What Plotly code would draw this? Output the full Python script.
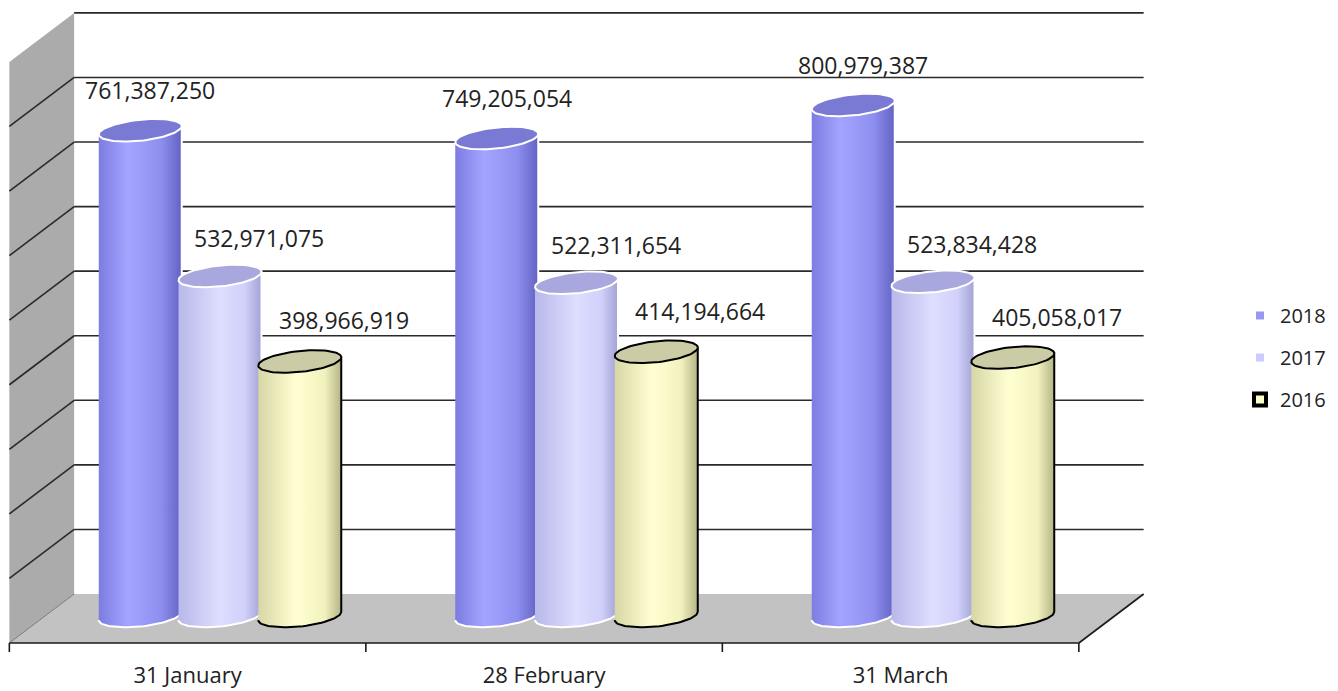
import numpy as np
import plotly.graph_objects as go

# ---------------- data ----------------
categories = ["31 January", "28 February", "31 March"]
years = ["2018", "2017", "2016"]
values_2018 = [761387250, 749205054, 800979387]
values_2017 = [532971075, 522311654, 523834428]
values_2016 = [398966919, 414194664, 405058017]
grid_values = [100_000_000 * k for k in range(0, 10)]   # 0 .. 900M

series = [values_2018, values_2017, values_2016]

# ---------------- styling / geometry ----------------
W, H = 1338, 691
M_L, M_R, M_T, M_B = 5, 188, 5, 36
PX_PER_X = 356.5          # pixels per category step
PX_PER_Y = 0.638e-6       # pixels per value unit
ORIGIN_X_PX = 220         # pixel x of first category (bar plane)
ORIGIN_Y_PX = 616         # pixel y of value 0 (bar plane)

x_range = [(M_L - ORIGIN_X_PX) / PX_PER_X, (W - M_R - ORIGIN_X_PX) / PX_PER_X]
y_range = [-(H - M_B - ORIGIN_Y_PX) / PX_PER_Y, (ORIGIN_Y_PX - M_T) / PX_PER_Y]


def dx(px):
    return px / PX_PER_X


def dy(px):
    return px / PX_PER_Y


DEPTH_X = dx(32.4)
FRAME_SCALE = 1.012


def back(v):
    return dy(22) + FRAME_SCALE * v


def front(v):
    return dy(-27) + FRAME_SCALE * v


n = len(categories)
XL_B, XL_F = -0.5 + DEPTH_X, -0.5 - DEPTH_X
XR_B, XR_F = (n - 0.5) + DEPTH_X, (n - 0.5) - DEPTH_X
VMAX = grid_values[-1]

A_PX, B_PX, SHEAR = 41.5, 10.5, 0.1
SERIES_OFFSET_PX = [-79.75, 0.0, 79.75]
LABEL_OFFSET_PX = [(10, 40), (39, 38), (44, 41)]

body_scales = [
    [[0, "#7c7ce2"], [0.35, "#a4a4ff"], [0.75, "#8e8ef0"], [1, "#6262c2"]],
    [[0, "#b8b8ea"], [0.5, "#dedeff"], [0.8, "#d0d0fa"], [1, "#a2a2d4"]],
    [[0, "#d6d6a6"], [0.45, "#ffffd2"], [0.8, "#f2f2bf"], [1, "#b4b486"]],
]
base_colors = ["#9999f5", "#ccccff", "#ffffcc"]
top_colors = ["#7a7ad4", "#a8a8de", "#cbcba6"]
edge_colors = ["#ffffff", "#ffffff", "#000000"]
edge_widths = [2, 2, 2]
legend_line = [dict(color="#ffffff", width=4), dict(color="#ffffff", width=4),
               dict(color="#000000", width=4)]

FONT = "Open Sans"
TXT = "#222222"

fig = go.Figure()

# data bars (drawn narrow, covered by the cylinder shading below)
for k, (yr, vals) in enumerate(zip(years, series)):
    xs = [i + dx(SERIES_OFFSET_PX[k]) for i in range(n)]
    fig.add_trace(go.Bar(
        x=xs, y=vals, width=dx(54), name=yr, legendgroup=yr,
        marker=dict(color=base_colors[k], line=legend_line[k]),
        hovertemplate="%{y:,}<extra>" + yr + "</extra>",
    ))

# cylinder bodies and tops
t_bottom = np.linspace(0, -np.pi, 41)
t_full = np.linspace(0, 2 * np.pi, 81)
for k, vals in enumerate(series):
    for i, v in enumerate(vals):
        cx = i + dx(SERIES_OFFSET_PX[k])
        u = A_PX * np.cos(t_bottom)
        w = B_PX * np.sin(t_bottom) + SHEAR * u
        bx = [cx - dx(A_PX), cx + dx(A_PX)] + list(cx + dx(u))
        by = [v - dy(SHEAR * A_PX), v + dy(SHEAR * A_PX)] + list(dy(w))
        fig.add_trace(go.Scatter(
            x=bx, y=by, mode="lines", fill="toself",
            fillgradient=dict(type="horizontal", colorscale=body_scales[k]),
            line=dict(color=edge_colors[k], width=edge_widths[k]),
            showlegend=False, hoverinfo="skip",
        ))
        u2 = A_PX * np.cos(t_full)
        w2 = B_PX * np.sin(t_full) + SHEAR * u2
        fig.add_trace(go.Scatter(
            x=list(cx + dx(u2)), y=list(v + dy(w2)), mode="lines", fill="toself",
            fillcolor=top_colors[k],
            line=dict(color=edge_colors[k], width=edge_widths[k]),
            showlegend=False, hoverinfo="skip",
        ))

# ---------------- 3D frame (wall, floor, grid) ----------------
shapes = []


def poly(pts):
    return "M " + " L ".join(f"{x},{y}" for x, y in pts) + " Z"


shapes.append(dict(type="path", xref="x", yref="y", layer="below",
                   path=poly([(XL_B, back(0)), (XL_B, back(VMAX)),
                              (XL_F, front(VMAX)), (XL_F, front(0))]),
                   fillcolor="#ababab", line=dict(width=0)))
shapes.append(dict(type="path", xref="x", yref="y", layer="below",
                   path=poly([(XL_F, front(0)), (XR_F, front(0)),
                              (XR_B, back(0)), (XL_B, back(0))]),
                   fillcolor="#c2c2c2", line=dict(width=0)))
for g in grid_values[1:]:
    shapes.append(dict(type="line", xref="x", yref="y", layer="below",
                       x0=XL_B, x1=XR_B, y0=back(g), y1=back(g),
                       line=dict(color="#2a2a2a", width=1.6)))
for g in grid_values[1:-1]:
    shapes.append(dict(type="line", xref="x", yref="y", layer="below",
                       x0=XL_B, x1=XL_F, y0=back(g), y1=front(g),
                       line=dict(color="#2a2a2a", width=1.6)))
shapes.append(dict(type="line", xref="x", yref="y", layer="below",
                   x0=XL_B, x1=XL_F, y0=back(0), y1=front(0),
                   line=dict(color="#7a7a7a", width=1)))
shapes.append(dict(type="line", xref="x", yref="y", layer="below",
                   x0=XL_F, x1=XR_F, y0=front(0), y1=front(0),
                   line=dict(color="#1a1a1a", width=1.6)))
shapes.append(dict(type="line", xref="x", yref="y", layer="below",
                   x0=XR_F, x1=XR_B, y0=front(0), y1=back(0),
                   line=dict(color="#1a1a1a", width=1.6)))
for kk in range(n + 1):
    shapes.append(dict(type="line", xref="x", yref="y", layer="below",
                       x0=XL_F + kk, x1=XL_F + kk, y0=front(0), y1=front(0) - dy(9),
                       line=dict(color="#1a1a1a", width=1.6)))

# ---------------- value labels ----------------
annotations = []
for k, vals in enumerate(series):
    ox, oy = LABEL_OFFSET_PX[k]
    for i, v in enumerate(vals):
        annotations.append(dict(
            x=i + dx(SERIES_OFFSET_PX[k] + ox), y=v + dy(oy), xref="x", yref="y",
            text=f"{v:,}", showarrow=False, xanchor="center", yanchor="middle",
            font=dict(family=FONT, size=23, color=TXT),
        ))

fig.update_layout(
    width=W, height=H,
    margin=dict(l=M_L, r=M_R, t=M_T, b=M_B, pad=0, autoexpand=False),
    paper_bgcolor="white", plot_bgcolor="white",
    barmode="overlay",
    shapes=shapes, annotations=annotations,
    showlegend=True,
    legend=dict(x=(1240 - M_L) / (W - M_L - M_R), xanchor="left",
                y=(H - M_B - 296) / (H - M_T - M_B), yanchor="top",
                traceorder="grouped", tracegroupgap=13,
                font=dict(family=FONT, size=20, color=TXT),
                bgcolor="rgba(0,0,0,0)"),
    xaxis=dict(range=x_range, showgrid=False, zeroline=False, showline=False,
               automargin=False,
               tickmode="array", tickvals=[i - DEPTH_X for i in range(n)],
               ticktext=categories, ticks="", ticklabelstandoff=5,
               tickfont=dict(family=FONT, size=22, color=TXT), fixedrange=True),
    yaxis=dict(range=y_range, visible=False, fixedrange=True, automargin=False),
)

fig.write_html(
    "out.html",
    config={"displayModeBar": False},
    post_script="document.body.style.margin='0px';document.body.style.overflow='hidden';",
)
